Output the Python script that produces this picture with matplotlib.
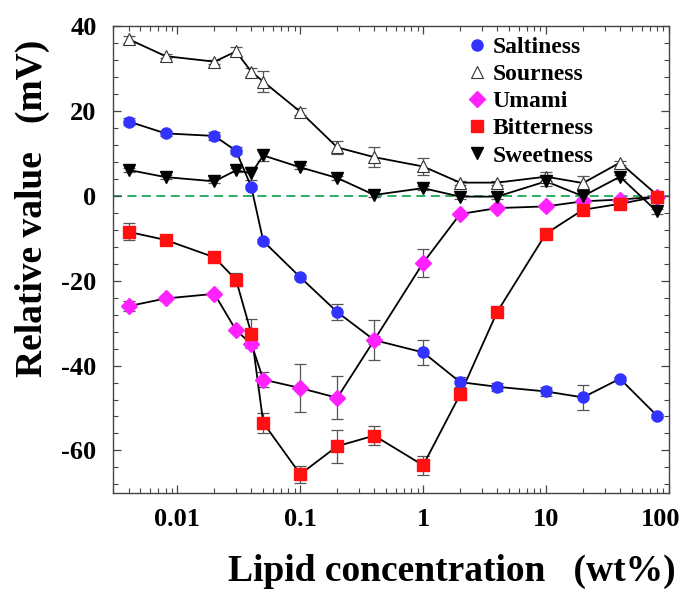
import matplotlib
matplotlib.use('Agg')
from matplotlib import pyplot as plt
from matplotlib.ticker import LogLocator, MultipleLocator, FixedLocator, FixedFormatter, NullFormatter
from matplotlib.transforms import ScaledTranslation

plt.rcParams['font.family'] = ['Liberation Serif', 'DejaVu Serif']
plt.rcParams['font.weight'] = 'bold'
plt.rcParams['axes.unicode_minus'] = False

# lipid concentration (wt%)
conc = [0.004, 0.008, 0.02, 0.03, 0.04, 0.05, 0.1, 0.2, 0.4, 1, 2, 4, 10, 20, 40, 80]

saltiness = [17.5, 14.7, 14.1, 10.6, 2.0, -10.7, -19.2, -27.4, -34.0, -36.9, -43.9, -45.0, -46.1, -47.5, -43.1, -51.8]
saltiness_err = [0.8, 0.5, 1.0, 0.8, 0.5, 0.5, 0.5, 1.8, 1.0, 3.0, 1.2, 1.0, 1.0, 2.9, 0.5, 0.5]

sourness = [36.9, 32.9, 31.6, 34.0, 29.2, 26.9, 19.8, 11.4, 9.1, 6.9, 3.1, 3.1, 4.5, 3.0, 7.8, 0.2]
sourness_err = [0.8, 0.5, 0.5, 1.0, 1.0, 2.5, 0.8, 1.5, 2.3, 2.0, 0.5, 0.5, 1.0, 1.6, 0.5, 0.5]

umami = [-26.0, -24.2, -23.1, -31.7, -34.9, -43.3, -45.3, -47.6, -34.0, -15.8, -4.3, -2.9, -2.5, -1.3, -0.9, -0.2]
umami_err = [1.2, 0.5, 0.5, 0.5, 0.8, 1.7, 5.7, 5.1, 4.7, 3.3, 0.5, 0.5, 0.5, 0.5, 0.5, 0.5]

bitterness = [-8.5, -10.4, -14.5, -19.8, -32.5, -53.5, -65.6, -59.0, -56.5, -63.5, -46.8, -27.4, -8.9, -3.3, -1.9, -0.2]
bitterness_err = [2.0, 0.5, 0.8, 1.5, 3.4, 2.3, 2.0, 3.9, 2.3, 2.3, 1.4, 0.5, 0.5, 0.5, 0.5, 0.5]

sweetness = [6.1, 4.4, 3.4, 6.0, 5.3, 9.5, 6.7, 4.2, 0.2, 1.8, -0.2, -0.2, 3.4, -0.1, 4.5, -3.7]
sweetness_err = [0.5, 0.5, 0.5, 0.5, 1.5, 1.2, 0.5, 0.5, 0.5, 0.5, 0.5, 0.5, 1.0, 0.5, 0.5, 0.5]

fig = plt.figure(figsize=(6.86, 5.91), dpi=100)
ax = fig.add_axes([0.165, 0.166, 0.81, 0.790])

ax.axhline(0, color='#1aaa55', ls=(0, (5, 3)), lw=1.3, zorder=1)

series = [
    ('Saltiness', saltiness, saltiness_err, dict(marker='o', ms=8, mfc='#3333ff', mec='#3333ff')),
    ('Sourness', sourness, sourness_err, dict(marker='^', ms=9, mfc='white', mec='#333333', mew=0.8)),
    ('Umami', umami, umami_err, dict(marker='D', ms=8.5, mfc='#ff22ff', mec='#ff22ff')),
    ('Bitterness', bitterness, bitterness_err, dict(marker='s', ms=8, mfc='#ff1111', mec='#ff1111')),
    ('Sweetness', sweetness, sweetness_err, dict(marker='v', ms=9, mfc='black', mec='black')),
]

handles = []
for name, vals, errs, style in series:
    ax.errorbar(conc, vals, yerr=errs, fmt='none', ecolor='#555555', elinewidth=0.9,
                capsize=4, capthick=0.9, zorder=2)
    ax.plot(conc, vals, color='black', lw=1.3, zorder=3)
    h, = ax.plot(conc, vals, ls='none', zorder=4, **style)
    handles.append(h)

ax.set_xscale('log')
ax.set_xlim(0.003, 100)
ax.set_ylim(-70, 40)

ax.xaxis.set_major_locator(FixedLocator([0.01, 0.1, 1, 10, 100]))
ax.xaxis.set_major_formatter(FixedFormatter(['0.01', '0.1', '1', '10', '100']))
ax.xaxis.set_minor_locator(LogLocator(base=10, subs=range(2, 10)))
ax.xaxis.set_minor_formatter(NullFormatter())
ax.yaxis.set_major_locator(MultipleLocator(20))
ax.yaxis.set_minor_locator(MultipleLocator(4))

ax.tick_params(which='both', direction='in', top=True, right=True, color='#444444')
ax.tick_params(which='major', length=6, width=0.9, labelsize=19)
ax.tick_params(axis='x', which='major', pad=11)
ax.tick_params(axis='y', which='major', pad=12)
ax.tick_params(which='minor', length=3.5, width=0.8)
for lab in ax.get_xticklabels() + ax.get_yticklabels():
    lab.set_fontweight('bold')
# the "100" label sits a bit left of its tick so it stays inside the figure
last = ax.get_xticklabels()[-1]
last.set_transform(last.get_transform() + ScaledTranslation(-6 / 72, 0, fig.dpi_scale_trans))
for sp in ax.spines.values():
    sp.set_color('#444444')
    sp.set_linewidth(1.0)

ax.set_xlabel('Lipid concentration   (wt%)', fontsize=27, fontweight='bold', va='center')
ax.xaxis.set_label_coords(0.61, -0.168)
ax.set_ylabel('Relative value   (mV)', fontsize=27, fontweight='bold', va='center')
ax.yaxis.set_label_coords(-0.146, 0.61)

leg = ax.legend(handles, [s[0] for s in series], loc='upper left', bbox_to_anchor=(0.642, 0.978),
                frameon=False, handlelength=0.6, handletextpad=0.35, labelspacing=0.24,
                borderpad=0, borderaxespad=0, prop={'size': 17, 'weight': 'bold'})

fig.savefig('out.png', dpi=100)
